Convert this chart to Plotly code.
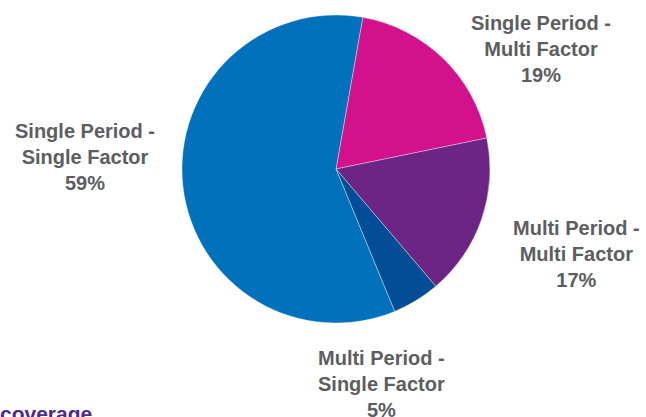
import plotly.graph_objects as go

# Share of coverage by model type
periods = ["Single Period", "Multi Period", "Multi Period", "Single Period"]
factors = ["Multi Factor", "Multi Factor", "Single Factor", "Single Factor"]
shares = [19, 17, 5, 59]
colors = ["#D3118C", "#6C2584", "#024E96", "#0071BA"]

# label anchor points (paper coords) for each slice's caption
label_x = [0.838, 0.893, 0.591, 0.132]
label_y = [0.882, 0.390, 0.078, 0.623]

fig = go.Figure(
    go.Pie(
        labels=[f"{p} - {f}" for p, f in zip(periods, factors)],
        values=shares,
        marker=dict(colors=colors, line=dict(color="rgba(255,255,255,0.6)", width=0.6)),
        sort=False,
        direction="clockwise",
        rotation=10,
        textinfo="none",
        hoverinfo="label+percent",
        showlegend=False,
        domain=dict(x=[0.2817, 0.7585], y=[0.2254, 0.964]),
    )
)

for p, f, v, x, y in zip(periods, factors, shares, label_x, label_y):
    fig.add_annotation(
        x=x, y=y, xref="paper", yref="paper",
        xanchor="center", yanchor="middle",
        text=f"<b>{p} -</b><br><b>{f}</b><br><b>{v}%</b>",
        showarrow=False, align="center",
        font=dict(family="Liberation Sans, Arial, sans-serif", size=20, color="#5D5E60"),
    )

fig.add_annotation(
    x=0.146, y=0.008, xref="paper", yref="paper",
    xanchor="right", yanchor="middle",
    text="<b>coverage</b>", showarrow=False,
    font=dict(family="Liberation Sans, Arial, sans-serif", size=21, color="#4F2A8E"),
)

fig.update_layout(
    width=646, height=417,
    margin=dict(l=0, r=0, t=0, b=0),
    paper_bgcolor="white", plot_bgcolor="white",
    font=dict(family="Liberation Sans, Arial, sans-serif"),
)

fig.write_html("out.html")
